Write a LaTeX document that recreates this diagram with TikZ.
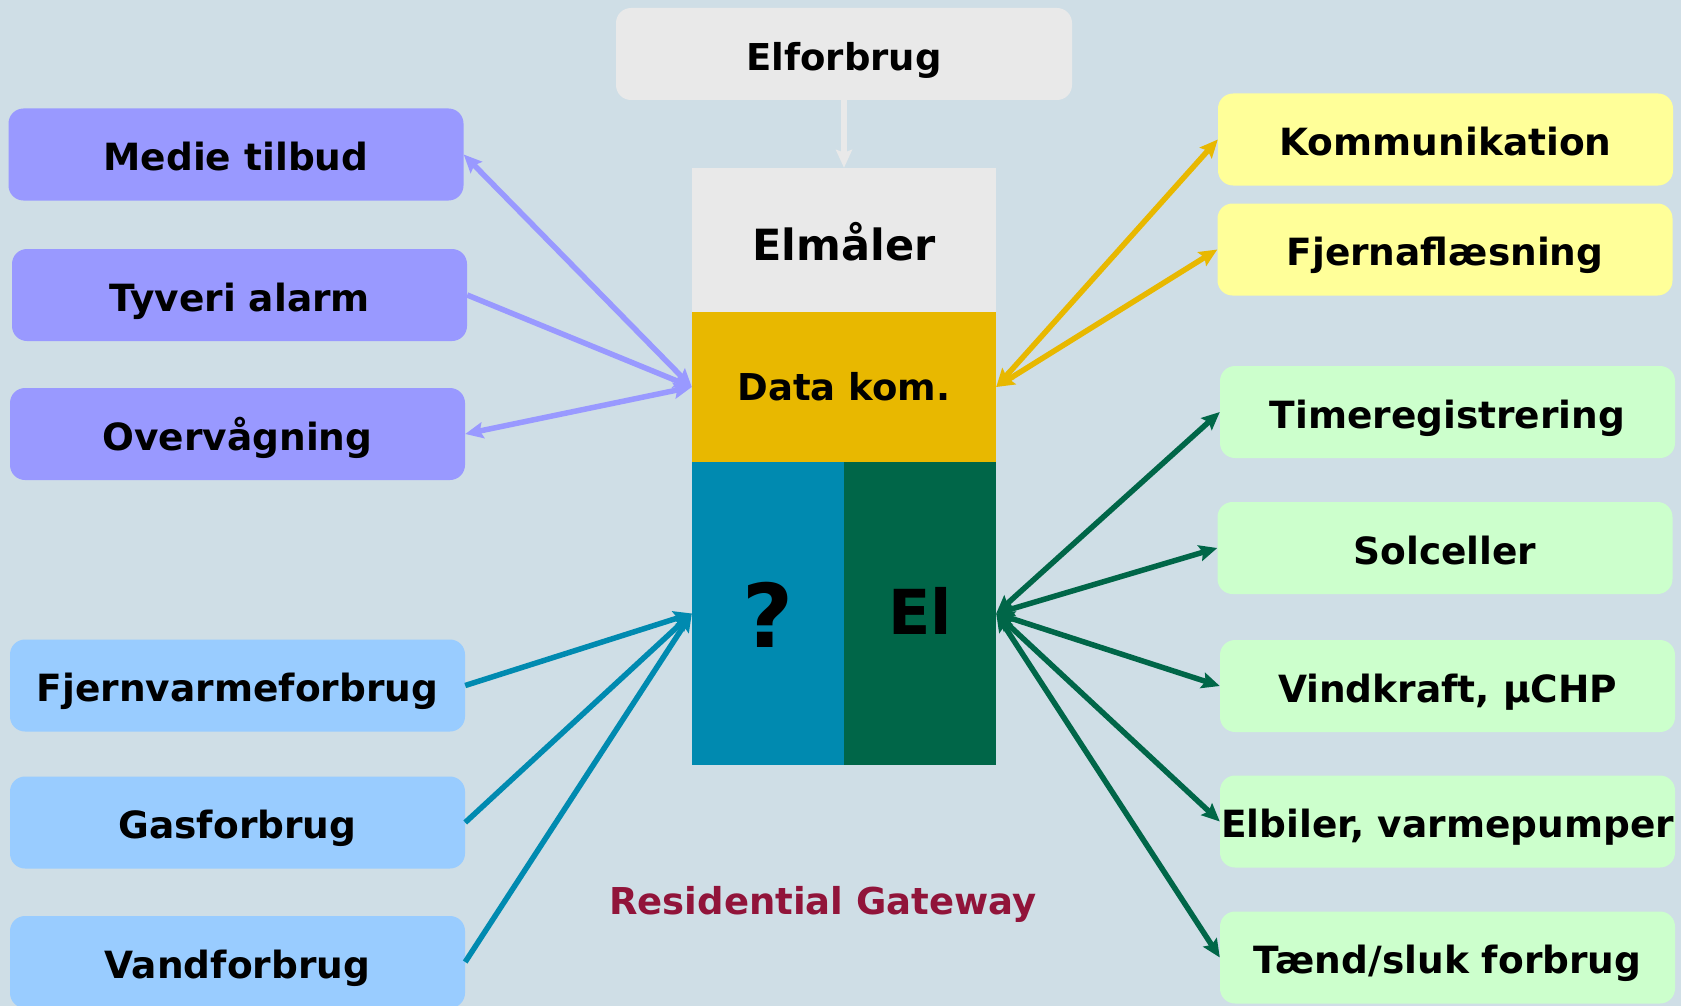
\documentclass[tikz,border=0pt]{standalone}
\usepackage{fontspec}
\setmainfont{DejaVu Sans}
\usetikzlibrary{arrows.meta}

\definecolor{bg}{RGB}{207,222,230}
\definecolor{purp}{RGB}{153,153,255}
\definecolor{lblue}{RGB}{153,204,255}
\definecolor{lyellow}{RGB}{255,255,153}
\definecolor{lgreen}{RGB}{204,255,204}
\definecolor{lgray}{RGB}{233,233,233}
\definecolor{gold}{RGB}{232,184,0}
\definecolor{teal}{RGB}{0,138,176}
\definecolor{dgreen}{RGB}{0,102,72}
\definecolor{wine}{RGB}{145,20,58}

\begin{document}
\begin{tikzpicture}[x=1pt,y=-1pt,
  box/.style={rounded corners=15pt, minimum width=455pt, minimum height=92pt,
    inner sep=0pt, text height=38.5pt, text depth=5.6pt,
    font=\fontsize{37.5}{42}\selectfont\bfseries},
  pbox/.style={box, fill=purp},
  bbox/.style={box, fill=lblue},
  ybox/.style={box, fill=lyellow},
  gbox/.style={box, fill=lgreen},
  block/.style={inner sep=0pt, minimum width=304pt},
  tipA/.tip={Stealth[length=18pt,width=16pt,inset=3pt]},
  link/.style={line width=5.5pt, -tipA},
  dlink/.style={line width=5.5pt, tipA-tipA}]

% canvas
\fill[bg] (0,0) rectangle (1681,1006);
\useasboundingbox (0,0) rectangle (1681,1006);

% supply and meter stack
\node[box, fill=lgray, minimum width=456pt,
  font=\fontsize{37}{42}\selectfont\bfseries] (elforbrug) at (844,54) {Elforbrug};
\node[block, fill=lgray, minimum height=144pt, text height=47pt, text depth=6.5pt,
  font=\fontsize{43}{48}\selectfont\bfseries] (elmaler) at (844,240) {Elmåler};
\node[block, fill=gold, minimum height=150pt,
  font=\fontsize{37}{42}\selectfont\bfseries] (datakom) at (844,387) {Data kom.};
\node[inner sep=0pt, minimum width=152pt, minimum height=303pt, fill=teal] (other) at (768,613.5) {};
\node[font=\fontsize{88}{94}\selectfont\bfseries, inner sep=0pt] (qmark) at (768,615) {?};
\node[inner sep=0pt, minimum width=152pt, minimum height=303pt, fill=dgreen] (el) at (920,613.5) {};
\node[font=\fontsize{62}{68}\selectfont\bfseries, inner sep=0pt] (eltxt) at (920,611) {El};

\node[text=wine, font=\fontsize{37}{42}\selectfont\bfseries] (rg) at (823,904) {Residential Gateway};

% left side services
\node[pbox] (medie) at (236,154.5) {Medie tilbud};
\node[pbox] (tyveri) at (239.5,295) {Tyveri alarm};
\node[pbox] (overv) at (237.5,434) {Overvågning};
\node[bbox] (fjernv) at (237.5,685.5) {Fjernvarmeforbrug};
\node[bbox] (gas) at (237.5,822.5) {Gasforbrug};
\node[bbox] (vand) at (237.5,962) {Vandforbrug};

% right side services
\node[ybox] (komm) at (1445.5,139.5) {Kommunikation};
\node[ybox] (fjerna) at (1445,249.5) {Fjernaflæsning};
\node[gbox] (timer) at (1447.5,412) {Timeregistrering};
\node[gbox] (sol) at (1445,548) {Solceller};
\node[gbox] (vind) at (1447.5,686) {Vindkraft, µCHP};
\node[gbox] (elbil) at (1447.5,821.5) {Elbiler, varmepumper};
\node[gbox] (taend) at (1447.5,957.5) {Tænd/sluk forbrug};

% connectors
\draw[link, draw=lgray] (elforbrug) -- (elmaler);

\draw[dlink, draw=purp] (medie.east) -- (datakom.west);
\draw[link, draw=purp] (tyveri.east) -- (datakom.west);
\draw[dlink, draw=purp] (overv.east) -- (datakom.west);

\draw[dlink, draw=gold] (datakom.east) -- (komm.west);
\draw[dlink, draw=gold] (datakom.east) -- (fjerna.west);

\draw[link, draw=teal] (fjernv.east) -- (other.west);
\draw[link, draw=teal] (gas.east) -- (other.west);
\draw[link, draw=teal] (vand.east) -- (other.west);

\draw[dlink, draw=dgreen] (el.east) -- (timer.west);
\draw[dlink, draw=dgreen] (el.east) -- (sol.west);
\draw[dlink, draw=dgreen] (el.east) -- (vind.west);
\draw[dlink, draw=dgreen] (el.east) -- (elbil.west);
\draw[dlink, draw=dgreen] (el.east) -- (taend.west);
\end{tikzpicture}
\end{document}
